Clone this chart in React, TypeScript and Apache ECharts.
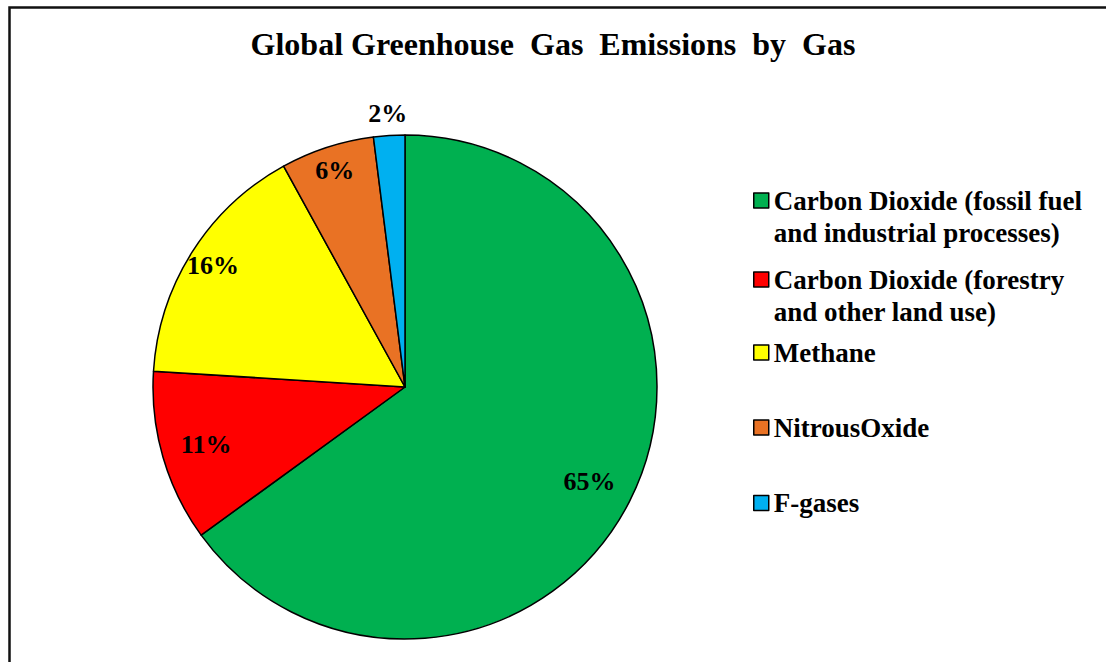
import React, { useEffect, useRef } from "react";
import * as echarts from "echarts";

// Share of global greenhouse gas emissions, by gas (percent)
const gasNames = [
  "Carbon Dioxide (fossil fuel\nand industrial processes)",
  "Carbon Dioxide (forestry\nand other land use)",
  "Methane",
  "NitrousOxide",
  "F-gases",
];
const shares = [65, 11, 16, 6, 2];
const sliceColors = ["#00B050", "#FF0000", "#FFFF00", "#E97224", "#00B0F0"];

const titleText = "Global Greenhouse  Gas  Emissions  by  Gas";

const SERIF = "'Liberation Serif', 'Times New Roman', serif";
const CENTER: [number, number] = [405, 387];
const R = 252;
const LEGEND_LINE = 32;
const legendRowCenters = [200.5, 279.5, 352.5, 427.5, 503];

// Which ring each percentage label sits on
const innerRingA = [0, 1];
const innerRingB = [2, 3];
const rimRing = [4];

function labelRing(showIdx: number[], radius: [number, number]) {
  return {
    type: "pie",
    silent: true,
    center: CENTER,
    radius,
    startAngle: 90,
    clockwise: true,
    emphasis: { disabled: true },
    itemStyle: { color: "rgba(0,0,0,0)", borderWidth: 0 },
    labelLine: { show: false },
    label: {
      position: "inside",
      formatter: "{c}%",
      fontFamily: SERIF,
      fontWeight: "bold",
      fontSize: 26,
      color: "#000",
    },
    data: gasNames.map((name, i) => ({
      name,
      value: shares[i],
      label: { show: showIdx.includes(i) },
    })),
  };
}

export default function App() {
  const ref = useRef<HTMLDivElement>(null);

  useEffect(() => {
    if (!ref.current) return;
    const chart = echarts.init(ref.current, undefined, { renderer: "svg" });

    // One legend per entry so that each marker lines up with the first line of its text.
    // Two-line names get a blank leading line, which puts their first line on the marker.
    const legends = gasNames.map((name, i) => {
      const twoLine = name.includes("\n");
      return {
        data: [name],
        orient: "vertical",
        left: 753,
        top: legendRowCenters[i] - (twoLine ? 1.5 * LEGEND_LINE : LEGEND_LINE / 2),
        padding: 0,
        selectedMode: false,
        icon: "rect",
        itemWidth: 15,
        itemHeight: 15,
        itemStyle: { borderColor: "#000", borderWidth: 1.5 },
        formatter: (n: string) => (n.includes("\n") ? "\n" + n : n),
        textStyle: {
          fontFamily: SERIF,
          fontWeight: "bold",
          fontSize: 27,
          lineHeight: LEGEND_LINE,
          color: "#000",
        },
      };
    });

    chart.setOption({
      animation: false,
      backgroundColor: "#fff",
      title: {
        text: titleText,
        left: "center",
        top: 23,
        textStyle: {
          fontFamily: SERIF,
          fontWeight: "bold",
          fontSize: 32,
          color: "#000",
        },
      },
      legend: legends,
      graphic: [
        {
          type: "rect",
          shape: { x: 9.5, y: 7.5, width: 1200, height: 800 },
          style: { fill: "none", stroke: "#111", lineWidth: 2.5 },
          silent: true,
        },
      ],
      series: [
        {
          type: "pie",
          center: CENTER,
          radius: R,
          startAngle: 90,
          clockwise: true,
          emphasis: { disabled: true },
          label: { show: false },
          labelLine: { show: false },
          itemStyle: { borderColor: "#000", borderWidth: 1.5 },
          data: gasNames.map((name, i) => ({
            name,
            value: shares[i],
            itemStyle: { color: sliceColors[i] },
          })),
        },
        labelRing(innerRingA, [0.62 * R, R]),
        labelRing(innerRingB, [0.78 * R, R]),
        labelRing(rimRing, [R, R + 38]),
      ],
    });

    return () => chart.dispose();
  }, []);

  return (
    <div
      ref={ref}
      style={{ position: "absolute", left: 0, top: 0, width: 1106, height: 662 }}
    />
  );
}
